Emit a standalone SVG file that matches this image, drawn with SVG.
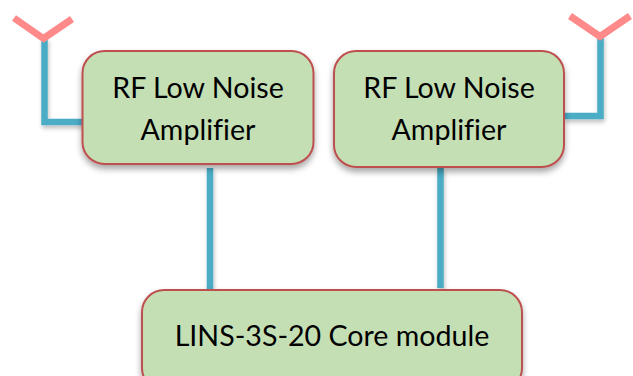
<svg xmlns="http://www.w3.org/2000/svg" width="633" height="376" viewBox="0 0 633 376">
<defs>
<filter id="sh" x="-10%" y="-10%" width="120%" height="130%"><feDropShadow dx="0" dy="4" stdDeviation="3" flood-color="#000" flood-opacity="0.35"/></filter>
<filter id="ws" filterUnits="userSpaceOnUse" x="0" y="0" width="633" height="376"><feDropShadow dx="1" dy="3" stdDeviation="2" flood-color="#000" flood-opacity="0.25"/></filter>
</defs>
<style>
.box{fill:#c5dfb4;stroke:#bd5050;stroke-width:2;filter:url(#sh)}
.wire{fill:none;stroke:#4bacc6;stroke-width:6.500;stroke-linejoin:miter;filter:url(#ws)}
.ant{fill:none;stroke:#ff8a8a;stroke-width:7;stroke-linejoin:miter}
text{font-family:"Lato","Open Sans","Liberation Sans",sans-serif;font-size:28.600px;fill:#000;text-anchor:middle;font-variant-ligatures:none}
</style>
<rect width="633" height="376" fill="#fff"/>
<g id="connectors">
<path class="wire" d="M44.500 38V122H83"/>
<path class="wire" d="M600.500 35V116H564"/>
<path class="wire" d="M210 168V290"/>
<path class="wire" d="M440.500 168V288"/>
<path class="ant" d="M14 18L43.500 38.500L72 19"/>
<path class="ant" d="M570 16L600 36.500L630 16"/>
</g>
<g id="lna1"><rect class="box" x="82.500" y="51" width="231" height="113" rx="22"/><text x="198" y="98">RF Low Noise</text><text x="198" y="140">Amplifier</text></g>
<g id="lna2"><rect class="box" x="334" y="51" width="230" height="116" rx="22"/><text x="449" y="98">RF Low Noise</text><text x="449" y="140">Amplifier</text></g>
<g id="core"><rect class="box" x="142" y="290" width="380" height="100" rx="22"/><text x="332" y="346">LINS-3S-20 Core module</text></g>
</svg>
